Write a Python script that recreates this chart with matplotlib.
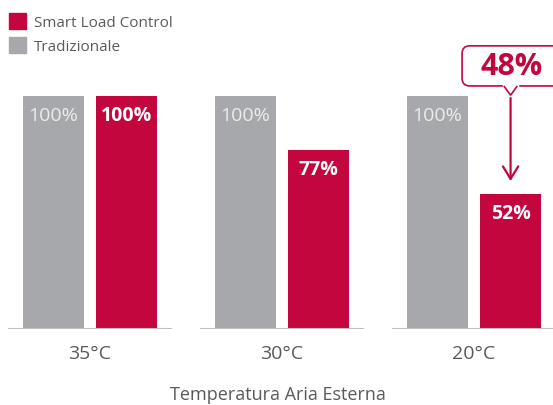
import matplotlib.pyplot as plt
import numpy as np
from matplotlib.patches import Patch, FancyBboxPatch, Polygon

plt.rcParams['font.family'] = ['Open Sans', 'DejaVu Sans']

temps = ["35°C", "30°C", "20°C"]
traditional = [100, 100, 100]
smart = [100, 77, 58]          # bar heights as drawn in the picture
trad_labels = ["100%", "100%", "100%"]
smart_labels = ["100%", "77%", "52%"]
saving_label = "48%"

RED = "#c4063f"
GREY = "#a7a8ab"
TEXT = "#5a5a5a"

fig = plt.figure(figsize=(5.53, 4.06), dpi=100)
ax = fig.add_axes([0, 76 / 406, 1, 330 / 406])

x = np.arange(len(temps))
off = 0.19
w = 0.318

ax.bar(x - off, traditional, w, color=GREY, zorder=2)
ax.bar(x + off, smart, w, color=RED, zorder=2)

for i in x:
    ax.annotate(trad_labels[i], (i - off, traditional[i]), xytext=(0, -14), textcoords="offset points",
                ha="center", va="center", color="#ececec", fontsize=14)
    ax.annotate(smart_labels[i], (i + off, smart[i]), xytext=(0, -14), textcoords="offset points",
                ha="center", va="center", color="white", fontsize=14, fontweight="bold")

# baseline under each group
ax.hlines([0] * len(x), x - 0.425, x + 0.425, color="#bdbdbd", lw=1.5, zorder=3)

# callout with saving
cx = x[-1] + off
bx0, by0, by1 = 1.9375, 104.3, 121.5
box = FancyBboxPatch((bx0, by0), 0.6, by1 - by0, boxstyle="round,pad=0,rounding_size=0.04",
                     mutation_aspect=82.4, fc="white", ec=RED, lw=1.2, zorder=4)
ax.add_patch(box)
ax.plot([cx - 0.033, cx + 0.033], [by0, by0], color="white", lw=2.5, zorder=5)
tri = Polygon([[cx - 0.035, by0], [cx, by0 - 4], [cx + 0.035, by0]], closed=False,
              fc="white", ec=RED, lw=1.2, zorder=6)
ax.add_patch(tri)
ax.text(cx + 0.005, (by0 + by1) / 2, saving_label, ha="center", va="center", color=RED,
        fontsize=22, fontweight="bold", zorder=7)
ax.annotate("", xy=(cx, smart[-1] + 4.3), xytext=(cx, by0 - 4),
            arrowprops=dict(arrowstyle="->,head_length=0.9,head_width=0.55", color=RED, lw=1.6))

ax.set_xlim(-0.469, 2.411)
ax.set_ylim(0, 141.6)
ax.set_xticks(x, temps)
ax.tick_params(axis="x", length=0, pad=11, labelsize=14, labelcolor=TEXT)
ax.set_yticks([])
for s in ax.spines.values():
    s.set_visible(False)

fig.text(0.503, 1 - 395 / 406, "Temperatura Aria Esterna", ha="center", va="center",
         fontsize=13, color=TEXT)

handles = [Patch(color=RED), Patch(color=GREY)]
fig.legend(handles, ["Smart Load Control", "Tradizionale"], loc="upper left",
           bbox_to_anchor=(-0.002, 0.99), frameon=False, fontsize=11, labelcolor=TEXT,
           handlelength=1.15, handleheight=1.2, handletextpad=0.5, labelspacing=0.45,
           borderaxespad=0.25)

fig.savefig("out.png", dpi=100)
